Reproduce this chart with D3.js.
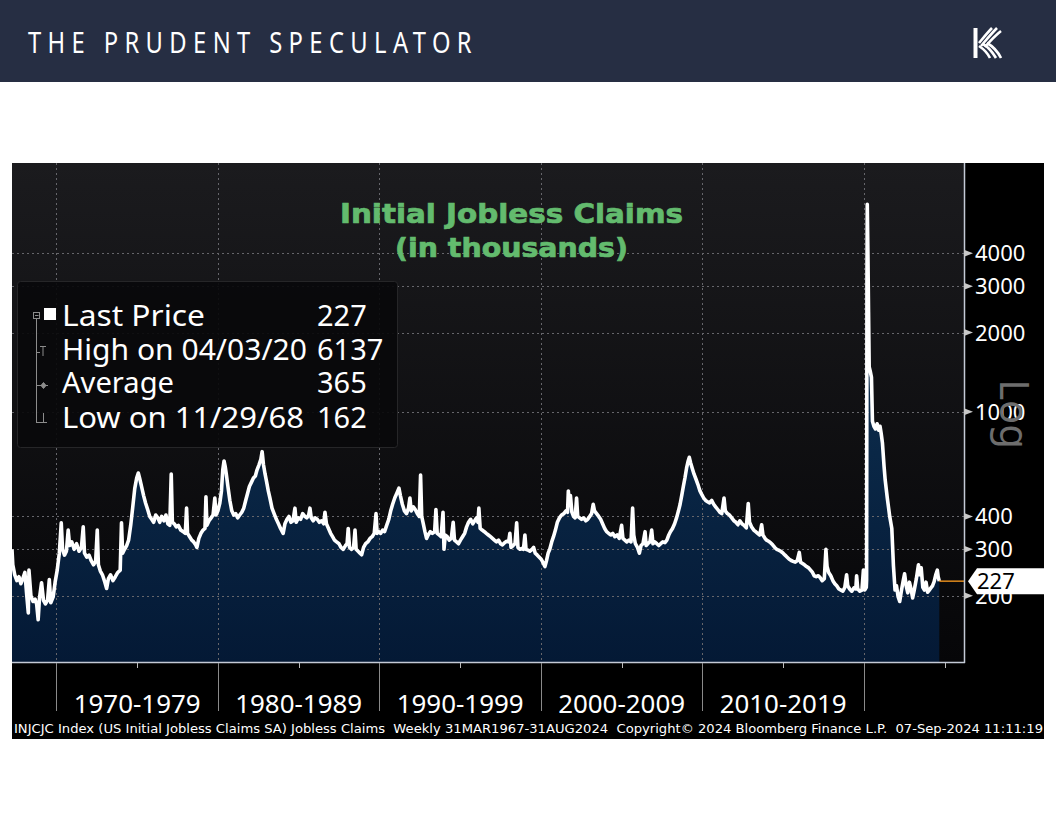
<!DOCTYPE html>
<html><head><meta charset="utf-8">
<script src="https://cdn.jsdelivr.net/npm/d3@7"></script>
<style>body{margin:0;background:#fff;} svg{display:block;}</style>
</head><body>
<svg id="c" width="1056" height="816"></svg>
<script>
// ---- DATA (decimal year, claims in thousands) ----
const claims1960s = [[1967.25,300],[1967.3,262],[1967.42,240],[1967.55,228],[1967.68,236],[1967.8,222],[1967.92,232],[1968.05,245],[1968.15,205],[1968.26,172],[1968.3,250],[1968.42,200],[1968.55,190],[1968.68,194],[1968.78,185],[1968.87,162],[1968.95,195],[1969.08,224],[1969.2,192],[1969.32,186],[1969.45,192],[1969.56,230],[1969.65,188],[1969.8,198],[1969.92,225]];
const claims1970s = [[1970.05,250],[1970.18,290],[1970.3,378],[1970.38,300],[1970.5,285],[1970.62,295],[1970.73,355],[1970.82,310],[1970.95,320],[1971.1,300],[1971.25,315],[1971.4,295],[1971.55,305],[1971.66,365],[1971.74,290],[1971.88,280],[1972.02,285],[1972.15,272],[1972.3,262],[1972.43,270],[1972.53,355],[1972.6,262],[1972.72,248],[1972.85,240],[1973.0,225],[1973.11,213],[1973.22,232],[1973.35,240],[1973.5,228],[1973.65,236],[1973.8,245],[1973.95,250],[1974.03,378],[1974.1,290],[1974.22,300],[1974.35,310],[1974.47,325],[1974.6,370],[1974.72,430],[1974.85,510],[1974.97,560],[1975.07,585],[1975.15,560],[1975.27,520],[1975.4,480],[1975.52,450],[1975.65,425],[1975.78,400],[1975.9,390],[1976.02,380],[1976.15,405],[1976.28,395],[1976.4,380],[1976.52,400],[1976.65,385],[1976.78,405],[1976.9,375],[1977.02,370],[1977.11,580],[1977.18,380],[1977.3,375],[1977.42,365],[1977.55,370],[1977.7,355],[1977.85,350],[1977.98,345],[1978.06,430],[1978.12,345],[1978.25,335],[1978.38,325],[1978.5,320],[1978.62,312],[1978.7,305],[1978.82,330],[1978.95,345],[1979.08,355],[1979.2,360],[1979.26,475],[1979.32,370],[1979.45,385],[1979.58,395],[1979.7,405],[1979.81,470],[1979.88,405],[1980.0,420]];
const claims1980s = [[1980.12,450],[1980.22,500],[1980.3,600],[1980.38,650],[1980.45,620],[1980.52,580],[1980.62,520],[1980.74,460],[1980.86,420],[1980.98,405],[1981.1,410],[1981.22,395],[1981.35,405],[1981.48,415],[1981.6,430],[1981.72,460],[1981.84,490],[1981.95,520],[1982.08,540],[1982.2,560],[1982.32,570],[1982.42,600],[1982.55,630],[1982.66,660],[1982.74,705],[1982.82,630],[1982.92,580],[1983.02,540],[1983.12,500],[1983.22,470],[1983.35,430],[1983.48,410],[1983.62,390],[1983.75,375],[1983.88,360],[1984.04,345],[1984.15,375],[1984.28,390],[1984.4,400],[1984.52,380],[1984.65,385],[1984.77,430],[1984.85,380],[1984.98,395],[1985.12,390],[1985.25,410],[1985.38,400],[1985.5,395],[1985.62,405],[1985.7,430],[1985.78,395],[1985.9,385],[1986.02,395],[1986.15,390],[1986.28,380],[1986.42,385],[1986.55,375],[1986.63,415],[1986.72,375],[1986.85,360],[1986.98,345],[1987.1,335],[1987.22,325],[1987.35,320],[1987.5,315],[1987.62,305],[1987.76,300],[1987.9,310],[1988.0,315],[1988.07,360],[1988.15,305],[1988.28,300],[1988.4,305],[1988.49,355],[1988.56,300],[1988.68,295],[1988.8,290],[1988.9,286],[1989.02,305],[1989.15,315],[1989.28,320],[1989.42,330],[1989.55,335],[1989.68,345],[1989.79,410],[1989.86,345],[1989.96,350]];
const claims1990s = [[1990.08,345],[1990.2,355],[1990.32,350],[1990.45,370],[1990.58,390],[1990.7,420],[1990.82,445],[1990.95,470],[1991.08,490],[1991.21,512],[1991.3,480],[1991.42,445],[1991.55,420],[1991.68,410],[1991.8,430],[1991.89,470],[1991.97,420],[1992.1,435],[1992.22,425],[1992.35,410],[1992.47,400],[1992.55,575],[1992.62,400],[1992.72,375],[1992.82,350],[1992.92,330],[1993.02,340],[1993.15,350],[1993.28,345],[1993.42,350],[1993.5,425],[1993.58,345],[1993.7,340],[1993.82,335],[1993.94,415],[1994.0,300],[1994.08,340],[1994.2,335],[1994.32,325],[1994.45,330],[1994.57,380],[1994.65,325],[1994.78,320],[1994.9,315],[1995.02,325],[1995.15,335],[1995.28,345],[1995.4,365],[1995.52,380],[1995.65,390],[1995.78,375],[1995.9,385],[1996.02,395],[1996.1,380],[1996.16,430],[1996.24,360],[1996.36,355],[1996.5,350],[1996.62,345],[1996.75,340],[1996.88,335],[1997.0,330],[1997.12,325],[1997.25,320],[1997.38,325],[1997.5,315],[1997.62,312],[1997.75,318],[1997.88,322],[1998.0,320],[1998.08,345],[1998.15,305],[1998.28,310],[1998.4,315],[1998.5,378],[1998.58,305],[1998.7,300],[1998.82,302],[1998.92,300],[1999.01,340],[1999.08,300],[1999.2,298],[1999.32,295],[1999.45,300],[1999.55,305],[1999.65,290],[1999.78,285],[1999.9,280]];
const claims2000s = [[2000.02,275],[2000.12,268],[2000.25,258],[2000.35,272],[2000.45,290],[2000.55,300],[2000.67,320],[2000.78,335],[2000.9,355],[2001.02,380],[2001.15,395],[2001.28,405],[2001.42,410],[2001.55,420],[2001.65,415],[2001.7,500],[2001.75,440],[2001.83,480],[2001.92,415],[2002.02,400],[2002.12,395],[2002.21,470],[2002.28,400],[2002.4,395],[2002.52,390],[2002.65,395],[2002.78,385],[2002.9,390],[2003.02,400],[2003.14,410],[2003.24,445],[2003.32,420],[2003.45,410],[2003.58,400],[2003.7,390],[2003.82,375],[2003.95,360],[2004.07,350],[2004.2,345],[2004.32,340],[2004.45,345],[2004.58,335],[2004.72,340],[2004.85,330],[2005.0,370],[2005.08,330],[2005.2,325],[2005.32,320],[2005.45,325],[2005.58,320],[2005.68,430],[2005.75,340],[2005.85,315],[2005.98,305],[2006.1,290],[2006.2,310],[2006.32,315],[2006.45,350],[2006.52,310],[2006.62,315],[2006.75,320],[2006.86,355],[2006.94,315],[2007.05,320],[2007.18,315],[2007.3,310],[2007.42,315],[2007.55,320],[2007.68,318],[2007.8,325],[2007.92,340],[2008.02,350],[2008.15,360],[2008.28,375],[2008.4,395],[2008.52,420],[2008.62,445],[2008.72,480],[2008.82,520],[2008.92,560],[2009.02,610],[2009.12,650],[2009.19,671],[2009.27,640],[2009.37,610],[2009.48,580],[2009.6,555],[2009.72,530],[2009.85,500],[2009.96,485]];
const claims2010s = [[2010.08,470],[2010.2,460],[2010.32,455],[2010.45,450],[2010.58,460],[2010.7,445],[2010.82,435],[2010.95,425],[2011.08,415],[2011.2,410],[2011.34,470],[2011.42,420],[2011.55,410],[2011.68,405],[2011.82,395],[2011.95,385],[2012.08,380],[2012.2,372],[2012.32,385],[2012.45,375],[2012.58,370],[2012.72,362],[2012.84,448],[2012.92,380],[2013.05,365],[2013.18,355],[2013.3,350],[2013.42,345],[2013.55,340],[2013.67,372],[2013.75,340],[2013.88,330],[2013.98,325],[2014.1,322],[2014.22,318],[2014.35,312],[2014.48,305],[2014.6,300],[2014.72,298],[2014.85,295],[2015.0,290],[2015.12,285],[2015.25,280],[2015.38,275],[2015.5,272],[2015.62,270],[2015.75,268],[2015.88,272],[2016.0,292],[2016.08,268],[2016.2,265],[2016.32,262],[2016.45,258],[2016.58,255],[2016.7,250],[2016.82,245],[2016.92,238],[2017.05,236],[2017.18,238],[2017.3,234],[2017.42,228],[2017.55,232],[2017.65,300],[2017.72,258],[2017.82,245],[2017.95,238],[2018.08,228],[2018.2,222],[2018.32,218],[2018.45,212],[2018.58,210],[2018.7,208],[2018.82,215],[2018.93,240],[2019.0,218],[2019.12,212],[2019.25,208],[2019.38,214],[2019.5,212],[2019.55,238],[2019.62,212],[2019.75,208],[2019.88,210],[2019.97,250],[2020.05,210],[2020.15,215]];
const claims2020s = [[2020.17,230],[2020.19,3000],[2020.21,6137],[2020.25,4000],[2020.29,2400],[2020.33,1480],[2020.4,1420],[2020.47,1350],[2020.53,920],[2020.62,880],[2020.72,860],[2020.82,900],[2020.92,850],[2021.0,880],[2021.08,820],[2021.15,760],[2021.25,620],[2021.32,550],[2021.45,470],[2021.6,400],[2021.73,360],[2021.83,260],[2021.93,210],[2022.02,218],[2022.12,198],[2022.22,190],[2022.32,208],[2022.42,225],[2022.52,242],[2022.62,218],[2022.72,205],[2022.82,225],[2022.92,212],[2023.02,196],[2023.12,210],[2023.25,232],[2023.38,262],[2023.45,240],[2023.55,255],[2023.65,215],[2023.75,210],[2023.85,225],[2023.95,206],[2024.05,210],[2024.15,214],[2024.25,218],[2024.35,226],[2024.45,240],[2024.55,250],[2024.6,236],[2024.67,227]];

const yTicks = [200, 300, 400, 1000, 2000, 3000, 4000];
const decadeLines = [1970, 1980, 1990, 2000, 2010, 2020];
const midTicks = [1975, 1985, 1995, 2005, 2015, 2025];
const decadeLabels = ["1970-1979", "1980-1989", "1990-1999", "2000-2009", "2010-2019"];
const legendLabels = ["Last Price", "High on 04/03/20", "Average", "Low on 11/29/68"];
const legendValues = ["227", "6137", "365", "162"];
const lastValue = 227;
const titleLines = ["Initial Jobless Claims", "(in thousands)"];
const headerTitle = "THE PRUDENT SPECULATOR";
const footerText = "INJCJC Index (US Initial Jobless Claims SA) Jobless Claims  Weekly 31MAR1967-31AUG2024  Copyright\u00A9 2024 Bloomberg Finance L.P.  07-Sep-2024 11:11:19";

// ---- DRAW ----
const svg = d3.select("#c");
const defs = svg.append("defs");
const FONT = "'Noto Sans', 'Open Sans', sans-serif";

const gb = defs.append("linearGradient").attr("id","plotbg").attr("x1",0).attr("y1",0).attr("x2",0).attr("y2",1);
gb.append("stop").attr("offset","0%").attr("stop-color","#1b1b1e");
gb.append("stop").attr("offset","100%").attr("stop-color","#060608");
const ga = defs.append("linearGradient").attr("id","areafill").attr("gradientUnits","userSpaceOnUse")
  .attr("x1",0).attr("y1",200).attr("x2",0).attr("y2",662);
ga.append("stop").attr("offset","0%").attr("stop-color","#123458");
ga.append("stop").attr("offset","55%").attr("stop-color","#0a2746");
ga.append("stop").attr("offset","100%").attr("stop-color","#041935");
defs.append("clipPath").attr("id","clip").append("rect")
  .attr("x",12).attr("y",163).attr("width",952).attr("height",499);

// header
svg.append("rect").attr("x",0).attr("y",0).attr("width",1056).attr("height",82).attr("fill","#262e43");
svg.append("text").text(headerTitle)
  .attr("transform","translate(28,53) scale(0.82,1)")
  .attr("font-family",FONT).attr("font-size",29).attr("fill","#fff")
  .attr("textLength",541).attr("lengthAdjust","spacing");

// logo
const logo = svg.append("g").attr("fill","none").attr("stroke","#fff").attr("stroke-width",2.6);
logo.append("path").attr("d","M975.5,28 L975.5,58").attr("stroke-width",4);
logo.append("path").attr("d","M979,43 C984,37 988,32 992,28");
logo.append("path").attr("d","M981,46 C987,39 992,33 997,28");
logo.append("path").attr("d","M985,47 C991,40 996,35 1001,31");
logo.append("path").attr("d","M979,46 C985,50 988,54 990,58");
logo.append("path").attr("d","M983,44 C990,48 993,53 996,58");
logo.append("path").attr("d","M987,43 C994,47 998,52 1001,58");

// chart blocks
svg.append("rect").attr("x",12).attr("y",163).attr("width",1032).attr("height",576).attr("fill","#000");
svg.append("rect").attr("x",12).attr("y",163).attr("width",952).attr("height",499).attr("fill","url(#plotbg)");

const x = d3.scaleLinear().domain([1967.25, 2026.2]).range([12, 964]);
const y = d3.scaleLog().domain([111.9, 8815]).range([662, 163]);

const data = [].concat(claims1960s, claims1970s, claims1980s, claims1990s, claims2000s, claims2010s, claims2020s)
  .map(d => ({t: d[0], v: d[1]}));

const plot = svg.append("g").attr("clip-path","url(#clip)");
plot.append("path").datum(data)
  .attr("d", d3.area().x(d => x(d.t)).y0(662).y1(d => y(d.v)))
  .attr("fill","url(#areafill)");

// grid
plot.selectAll(".hg").data(yTicks).join("line")
  .attr("x1",12).attr("x2",964).attr("y1",d=>Math.round(y(d))+0.5).attr("y2",d=>Math.round(y(d))+0.5)
  .attr("stroke","#66666b").attr("stroke-width",1).attr("stroke-dasharray","2,3");
plot.selectAll(".vg").data(decadeLines).join("line")
  .attr("x1",d=>Math.round(x(d))+0.5).attr("x2",d=>Math.round(x(d))+0.5).attr("y1",163).attr("y2",662)
  .attr("stroke","#66666b").attr("stroke-width",1).attr("stroke-dasharray","2,3");

plot.append("path").datum(data)
  .attr("d", d3.line().x(d => x(d.t)).y(d => y(d.v)))
  .attr("fill","none").attr("stroke","#fff").attr("stroke-width",3.6).attr("stroke-linejoin","round");

// last value orange line
const last = data[data.length-1];
svg.append("line").attr("x1",x(last.t)).attr("x2",964).attr("y1",y(lastValue)).attr("y2",y(lastValue))
  .attr("stroke","#e08a1c").attr("stroke-width",1.5);

// plot border
svg.append("line").attr("x1",964.5).attr("x2",964.5).attr("y1",163).attr("y2",663).attr("stroke","#c4cad6").attr("stroke-width",1.5);
svg.append("line").attr("x1",12).attr("x2",965).attr("y1",662.5).attr("y2",662.5).attr("stroke","#c4cad6").attr("stroke-width",1.5);

// x axis below
svg.selectAll(".dl").data(decadeLines).join("line")
  .attr("x1",d=>Math.round(x(d))+0.5).attr("x2",d=>Math.round(x(d))+0.5).attr("y1",663).attr("y2",711)
  .attr("stroke","#8a8a8a").attr("stroke-width",1);
svg.selectAll(".mt").data(midTicks).join("line")
  .attr("x1",d=>Math.round(x(d))+0.5).attr("x2",d=>Math.round(x(d))+0.5).attr("y1",663).attr("y2",668)
  .attr("stroke","#bbbbbb").attr("stroke-width",1);
svg.selectAll(".dlab").data(decadeLabels).join("text")
  .attr("x",(d,i)=> (x(decadeLines[i]) + x(decadeLines[i+1]))/2)
  .attr("y",713).attr("text-anchor","middle")
  .attr("font-family",FONT).attr("font-size",26).attr("fill","#fff")
  .attr("textLength",127).attr("lengthAdjust","spacingAndGlyphs")
  .text(d=>d);

// y axis right
svg.selectAll(".ytm").data(yTicks).join("path")
  .attr("d", d => { const yy = y(d); return `M964,${yy-3.5} L973,${yy} L964,${yy+3.5} Z`; })
  .attr("fill","#c8c8c8");
svg.selectAll(".ylab").data(yTicks).join("text")
  .attr("x",975).attr("y",d=>y(d)+8)
  .attr("font-family",FONT).attr("font-size",22).attr("fill","#fff")
  .text(d=>d);

// Log
svg.append("text").text("Log")
  .attr("transform","translate(1000,414) rotate(90)")
  .attr("text-anchor","middle").attr("font-family",FONT).attr("font-size",40).attr("fill","#6d6d6d");

// last value label
const ly = y(lastValue);
svg.append("path").attr("d",`M968,${ly} L977,${ly-13} L1044,${ly-13} L1044,${ly+13} L977,${ly+13} Z`).attr("fill","#fff");
svg.append("text").text(lastValue).attr("x",977).attr("y",ly+8)
  .attr("font-family",FONT).attr("font-size",22).attr("fill","#000");

// title
svg.selectAll(".title").data(titleLines).join("text")
  .attr("x",511.5).attr("y",(d,i)=> i===0 ? 223 : 257).attr("text-anchor","middle")
  .attr("font-family","'DejaVu Sans', Verdana, sans-serif").attr("font-weight","bold").attr("font-size",26)
  .attr("fill","#63bb6e").attr("stroke","#63bb6e").attr("stroke-width",0.7)
  .attr("textLength",(d,i)=> i===0 ? 343 : 233).attr("lengthAdjust","spacingAndGlyphs")
  .text(d=>d);

// legend
svg.append("rect").attr("x",17.5).attr("y",281.5).attr("width",380).attr("height",166).attr("rx",3)
  .attr("fill","#09090b").attr("fill-opacity",0.92).attr("stroke","#262628");
const rowY = [326, 360, 393, 428];
const labelW = [143, 245, 112, 242];
svg.selectAll(".ll").data(legendLabels).join("text")
  .attr("x",62).attr("y",(d,i)=>rowY[i])
  .attr("font-family",FONT).attr("font-size",29).attr("fill","#fff")
  .attr("textLength",(d,i)=>labelW[i]).attr("lengthAdjust","spacingAndGlyphs")
  .text(d=>d);
svg.selectAll(".lv").data(legendValues).join("text")
  .attr("x",317).attr("y",(d,i)=>rowY[i])
  .attr("font-family",FONT).attr("font-size",29).attr("fill","#fff")
  .text(d=>d);
// legend icons
const ic = svg.append("g").attr("stroke","#8c8c8c").attr("stroke-width",1).attr("fill","none");
ic.append("rect").attr("x",33.5).attr("y",312.5).attr("width",6).attr("height",6);
ic.append("line").attr("x1",35).attr("x2",38.5).attr("y1",315.5).attr("y2",315.5);
ic.append("line").attr("x1",36.5).attr("x2",36.5).attr("y1",319).attr("y2",423);
ic.append("line").attr("x1",36.5).attr("x2",40).attr("y1",352.5).attr("y2",352.5);
ic.append("line").attr("x1",36.5).attr("x2",40).attr("y1",385.5).attr("y2",385.5);
ic.append("line").attr("x1",36.5).attr("x2",40).attr("y1",422.5).attr("y2",422.5);
ic.append("line").attr("x1",40).attr("x2",46).attr("y1",346.5).attr("y2",346.5);
ic.append("line").attr("x1",43).attr("x2",43).attr("y1",346.5).attr("y2",356);
ic.append("line").attr("x1",40).attr("x2",48).attr("y1",385.5).attr("y2",385.5);
ic.append("path").attr("d","M43.5,382.5 L46,385.5 L43.5,388.5 L41,385.5 Z").attr("fill","#8c8c8c");
ic.append("line").attr("x1",40).attr("x2",47).attr("y1",422.5).attr("y2",422.5);
ic.append("line").attr("x1",43.5).attr("x2",43.5).attr("y1",413).attr("y2",422.5);
svg.append("rect").attr("x",44).attr("y",308).attr("width",12).attr("height",12).attr("fill","#fff");

// footer
svg.append("text").text(footerText)
  .attr("x",14).attr("y",733).attr("xml:space","preserve").style("white-space","pre")
  .attr("font-family","'DejaVu Sans', Verdana, sans-serif").attr("font-size",13).attr("fill","#fff")
  .attr("textLength",1029).attr("lengthAdjust","spacingAndGlyphs");
</script>
</body></html>
